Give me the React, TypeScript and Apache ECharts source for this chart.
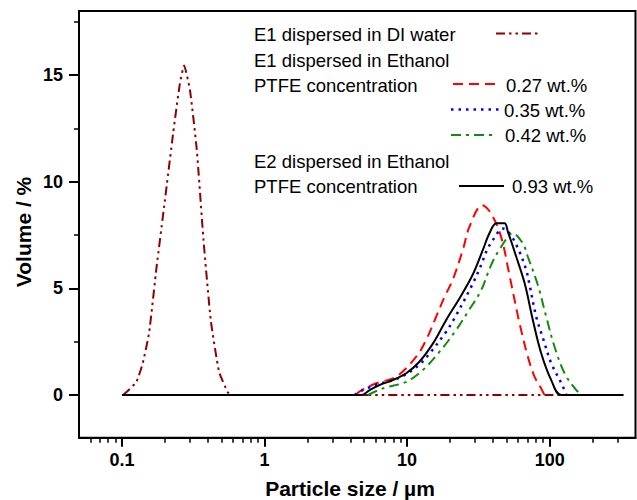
import React, { useEffect, useRef } from "react";
import * as echarts from "echarts";

// ---- data (particle size in µm, volume in %) ----
const diWater: [number, number][] = [
  [0.102, 0], [0.126, 0.6], [0.14, 1.5], [0.155, 2.9], [0.175, 6.0], [0.2, 9.1],
  [0.229, 12.3], [0.255, 14.6], [0.273, 15.45], [0.3, 14.3], [0.335, 11.5],
  [0.373, 7.3], [0.42, 3.5], [0.48, 1.1], [0.55, 0.15], [0.58, 0], [120, 0],
];
const ptfe027: [number, number][] = [
  [4.4, 0], [4.6, 0.15], [6.08, 0.55], [8.4, 0.86], [11.6, 1.8], [13.6, 2.58],
  [16, 3.67], [18.3, 4.6], [20.9, 5.4], [24.6, 6.8], [27.4, 7.89], [33.7, 8.9],
  [38.9, 8.5], [45.7, 7.4], [52.3, 5.6], [61.5, 3.36], [70.3, 1.8], [78.3, 0.86],
  [85.9, 0.39], [92, 0],
];
const ptfe035: [number, number][] = [
  [4.3, 0], [4.64, 0.16], [6.2, 0.5], [8, 0.7], [10, 1.0], [12.3, 1.45],
  [14.4, 1.95], [18.8, 2.97], [21.5, 3.6], [28.2, 5.08], [33.1, 6.1],
  [35.9, 6.72], [40, 7.27], [47, 7.8], [52, 7.6], [59.9, 6.88], [68.5, 5.86],
  [72.3, 5.16], [80.5, 3.67], [90.6, 2.58], [102.6, 1.49], [122.5, 0.47], [131, 0],
];
const ptfe042: [number, number][] = [
  [5.3, 0], [6.76, 0.31], [9.86, 0.62], [12.9, 1.17], [16.9, 2.03], [22.1, 3.05],
  [27, 3.95], [33.1, 4.92], [38.9, 6.1], [45.7, 6.95], [55.2, 7.58], [64.9, 7.1],
  [70.3, 6.48], [82.6, 5.16], [94.6, 3.67], [108.2, 2.26], [127.3, 1.02],
  [153.8, 0.23], [171, 0],
];
const ptfe093: [number, number][] = [
  [0.1, 0], [4.78, 0], [5.46, 0.23], [6.41, 0.47], [7.95, 0.7], [9.86, 1.02],
  [12.2, 1.56], [15.2, 2.42], [18.8, 3.52], [23.4, 4.55], [28.9, 5.65],
  [34, 6.8], [37.8, 7.58], [42.3, 8.05], [48.3, 8.05], [50.9, 7.66],
  [58.3, 6.48], [67, 5.2], [76.2, 3.52], [87.3, 1.95], [102.6, 0.7],
  [120.6, 0], [330, 0],
];

const xMajorTicks = [0.1, 1, 10, 100];
const xMinorTicks = [
  0.06, 0.07, 0.08, 0.09, 0.2, 0.3, 0.4, 0.5, 0.6, 0.7, 0.8, 0.9,
  2, 3, 4, 5, 6, 7, 8, 9, 20, 30, 40, 50, 60, 70, 80, 90, 200, 300,
];
const yMajorTicks = [0, 5, 10, 15];
const yMinorTicks = [2.5, 7.5, 12.5, 17.5];

const FONT = '"Liberation Sans", Arial, sans-serif';

export default function App() {
  const ref = useRef<HTMLDivElement>(null);
  useEffect(() => {
    if (!ref.current) return;
    const chart = echarts.init(ref.current, null, { renderer: "svg" });
    const lineSeries = (name: string, data: [number, number][], color: string, type: any, width = 2, smooth: number | boolean = 0.35) => ({
      name,
      type: "line",
      data,
      showSymbol: false,
      symbol: "none",
      smooth,
      xAxisIndex: 0,
      yAxisIndex: 0,
      lineStyle: { color, width, type, cap: "butt" },
      itemStyle: { color },
      z: 2,
    });

    const legendText = (text: string, x: number, y: number) => ({
      type: "text",
      x,
      y,
      style: {
        text,
        font: `18.5px ${FONT}`,
        fill: "#000",
        align: "left",
        verticalAlign: "middle",
        textAlign: "left",
        textVerticalAlign: "middle",
      },
    });
    const legendLine = (x1: number, x2: number, y: number, color: string, dash: number[] | null, width = 2) => ({
      type: "line",
      shape: { x1, y1: y, x2, y2: y },
      style: { stroke: color, lineWidth: width, lineDash: dash || undefined },
    });

    chart.setOption({
      animation: false,
      backgroundColor: "#fff",
      grid: {
        left: 79,
        right: 1.5,
        top: 11,
        bottom: 62.3,
        show: true,
        borderColor: "#000",
        borderWidth: 2,
        containLabel: false,
      },
      xAxis: [
        {
          type: "log",
          logBase: 10,
          min: 0.05,
          max: 400,
          position: "bottom",
          axisLine: { show: true, onZero: false, lineStyle: { color: "#000", width: 2 } },
          axisTick: { show: true, customValues: xMajorTicks, length: 9, inside: false, lineStyle: { color: "#000", width: 2 } },
          axisLabel: {
            show: true,
            customValues: xMajorTicks,
            formatter: (v: number) => String(v),
            fontFamily: FONT,
            fontWeight: "bold",
            fontSize: 18,
            color: "#000",
            margin: 13,
          },
          splitLine: { show: false },
          minorTick: { show: false },
        },
        {
          type: "log",
          logBase: 10,
          min: 0.05,
          max: 400,
          position: "bottom",
          axisLine: { show: false, onZero: false },
          axisTick: { show: true, customValues: xMinorTicks, length: 5, inside: false, lineStyle: { color: "#000", width: 1.5 } },
          axisLabel: { show: false },
          splitLine: { show: false },
        },
      ],
      yAxis: [
        {
          type: "value",
          min: -2,
          max: 18,
          position: "left",
          axisLine: { show: true, onZero: false, lineStyle: { color: "#000", width: 2 } },
          axisTick: { show: true, customValues: yMajorTicks, length: 10, inside: false, lineStyle: { color: "#000", width: 2 } },
          axisLabel: {
            show: true,
            customValues: yMajorTicks,
            fontFamily: FONT,
            fontWeight: "bold",
            fontSize: 18,
            color: "#000",
            margin: 16,
          },
          splitLine: { show: false },
        },
        {
          type: "value",
          min: -2,
          max: 18,
          position: "left",
          axisLine: { show: false, onZero: false },
          axisTick: { show: true, customValues: yMinorTicks, length: 5, inside: false, lineStyle: { color: "#000", width: 1.5 } },
          axisLabel: { show: false },
          splitLine: { show: false },
        },
      ],
      series: [
        lineSeries("E1 dispersed in DI water", diWater, "#8b0000", [9, 4, 2.5, 4, 2.5, 4], 2, 0.15),
        lineSeries("0.27 wt.%", ptfe027, "#ff0000", [10, 6]),
        lineSeries("0.35 wt.%", ptfe035, "#0000ff", [2.5, 5], 2.5),
        lineSeries("0.42 wt.%", ptfe042, "#108a10", [10, 5, 3, 5]),
        lineSeries("0.93 wt.%", ptfe093, "#000000", "solid", 2),
      ],
      graphic: [
        legendText("E1 dispersed in DI water", 254, 34),
        legendText("E1 dispersed in Ethanol", 254, 60),
        legendText("PTFE concentration", 254, 85),
        legendText("E2 dispersed in Ethanol", 254, 161.5),
        legendText("PTFE concentration", 254, 186.5),
        legendText("0.27 wt.%", 506, 85),
        legendText("0.35 wt.%", 504, 110),
        legendText("0.42 wt.%", 505, 135.5),
        legendText("0.93 wt.%", 512, 186.5),
        legendLine(496, 541, 33.5, "#8b0000", [9, 4, 2.5, 4, 2.5, 4]),
        legendLine(453, 500, 84, "#ff0000", [10, 6]),
        legendLine(451, 500, 109.5, "#0000ff", [2.5, 5], 2.5),
        legendLine(451, 495, 135, "#108a10", [10, 5, 3, 5]),
        legendLine(459, 504, 186, "#000000", null),
        {
          type: "text",
          x: 350,
          y: 488,
          style: {
            text: "Particle size / µm",
            font: `bold 21px ${FONT}`,
            fill: "#000",
            align: "center",
            verticalAlign: "middle",
            textAlign: "center",
            textVerticalAlign: "middle",
          },
        },
        {
          type: "text",
          x: 23.5,
          y: 232,
          rotation: Math.PI / 2,
          style: {
            text: "Volume / %",
            font: `bold 21px ${FONT}`,
            fill: "#000",
            align: "center",
            verticalAlign: "middle",
            textAlign: "center",
            textVerticalAlign: "middle",
          },
        },
      ],
    });
    return () => chart.dispose();
  }, []);
  return <div ref={ref} style={{ position: "fixed", left: 0, top: 0, width: 637, height: 500 }} />;
}
